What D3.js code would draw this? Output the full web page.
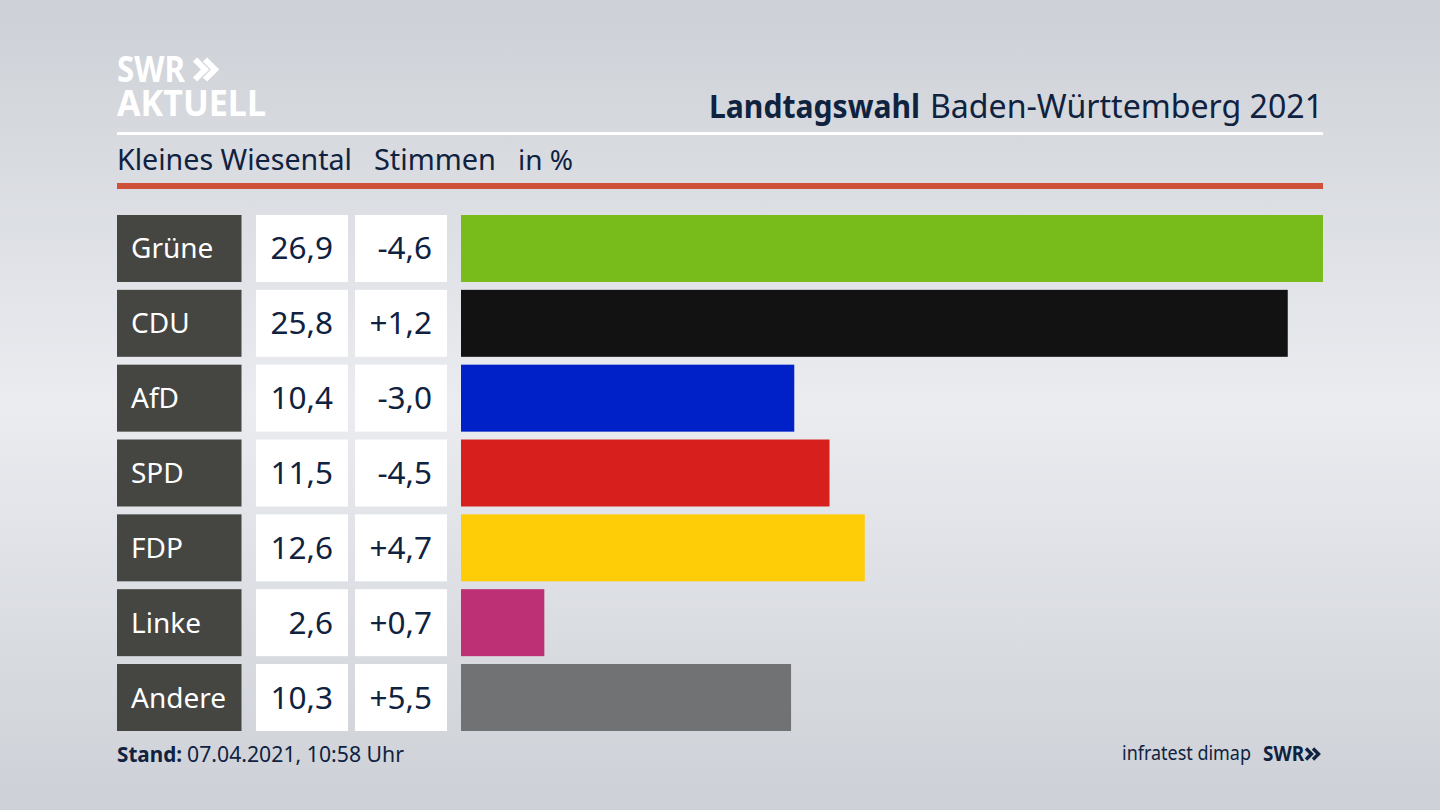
<!DOCTYPE html>
<html>
<head>
<meta charset="utf-8">
<script src="https://cdn.jsdelivr.net/npm/d3@7"></script>
<style>
  html, body { margin: 0; padding: 0; background: #d5d8de; }
  svg { display: block; }
  text { font-family: "Noto Sans", sans-serif; }
</style>
</head>
<body>
<svg id="chart"></svg>
<script>
// Chart data
const parties = ["Grüne", "CDU", "AfD", "SPD", "FDP", "Linke", "Andere"];
const shares = [26.9, 25.8, 10.4, 11.5, 12.6, 2.6, 10.3];
const changes = [-4.6, 1.2, -3.0, -4.5, 4.7, 0.7, 5.5];
const barColors = ["#78bc1b", "#121212", "#0021c8", "#d71f1d", "#ffcc08", "#bd3075", "#717274"];

const NAVY = "#0f2240";
const width = 1440;
const height = 810;

const svg = d3.select("#chart")
    .attr("width", width)
    .attr("height", height)
    .attr("viewBox", `0 0 ${width} ${height}`);

// Background: light band through the middle, darker top and bottom
const glow = svg.append("defs").append("linearGradient")
    .attr("id", "bg")
    .attr("x1", 0).attr("y1", 0).attr("x2", 0).attr("y2", 1);
glow.append("stop").attr("offset", "0%").attr("stop-color", "#cdd0d6");
glow.append("stop").attr("offset", "50%").attr("stop-color", "#eaecf0");
glow.append("stop").attr("offset", "100%").attr("stop-color", "#cdd0d6");

svg.append("rect").attr("width", width).attr("height", height).attr("fill", "url(#bg)");

// Scales
const y = d3.scaleBand().domain(parties).range([215, 731]).paddingInner(0.105);
const x = d3.scaleLinear().domain([0, d3.max(shares)]).range([461, 1323]);

const fmt = v => v.toFixed(1).replace(".", ",");
const fmtDiff = v => (v > 0 ? "+" : "-") + fmt(Math.abs(v));

// Header
function chevrons(x0, y0, h, dx, color, sw) {
    [0, dx].forEach(off => {
        svg.append("path")
            .attr("d", `M${x0 + off},${y0} l${h / 2},${h / 2} l${-h / 2},${h / 2}`)
            .attr("fill", "none")
            .attr("stroke", color)
            .attr("stroke-width", sw);
    });
}

// fixed-width text helper, the fonts here run wider than the original one
function fitText(tx, ty, size, weight, len, color, str) {
    return svg.append("text").attr("x", tx).attr("y", ty)
        .attr("font-size", size).attr("font-weight", weight).attr("fill", color)
        .attr("textLength", len).attr("lengthAdjust", "spacingAndGlyphs")
        .text(str);
}

// the logo lines sit tight on each other in the original too
fitText(117, 81.5, 36, 700, 68, "#fff", "SWR");
chevrons(195, 59.5, 20, 10, "#fff", 6);
fitText(117, 115.5, 36, 700, 149, "#fff", "AKTUELL");

fitText(709, 118, 32, 700, 211, NAVY, "Landtagswahl");
fitText(930, 118, 32, 400, 393, NAVY, "Baden-Württemberg 2021");

svg.append("rect").attr("x", 117).attr("y", 132).attr("width", 1206).attr("height", 3).attr("fill", "#fff");
svg.append("rect").attr("x", 117).attr("y", 183).attr("width", 1206).attr("height", 6).attr("fill", "#ce5138");

fitText(117, 170, 28.5, 400, 235, NAVY, "Kleines Wiesental");
fitText(374, 170, 28.5, 400, 122, NAVY, "Stimmen");
fitText(518, 170, 28, 400, 55, NAVY, "in %");

// Rows
const rows = svg.selectAll(".row").data(parties).enter().append("g").attr("class", "row");

rows.append("rect").attr("x", 117).attr("width", 124.5)
    .attr("y", d => y(d)).attr("height", y.bandwidth()).attr("fill", "#454542");
rows.append("text").attr("x", 131)
    .attr("y", d => y(d) + y.bandwidth() / 2 + 10)
    .attr("font-size", 28).attr("fill", "#fff").text(d => d);

rows.append("rect").attr("x", 256).attr("width", 92)
    .attr("y", d => y(d)).attr("height", y.bandwidth()).attr("fill", "#fff");
rows.append("text").attr("x", 333).attr("text-anchor", "end")
    .attr("y", d => y(d) + y.bandwidth() / 2 + 11)
    .attr("font-size", 31.5).attr("fill", NAVY).text((d, i) => fmt(shares[i]));

rows.append("rect").attr("x", 355).attr("width", 92)
    .attr("y", d => y(d)).attr("height", y.bandwidth()).attr("fill", "#fff");
rows.append("text").attr("x", 432).attr("text-anchor", "end")
    .attr("y", d => y(d) + y.bandwidth() / 2 + 11)
    .attr("font-size", 31.5).attr("fill", NAVY).text((d, i) => fmtDiff(changes[i]));

rows.append("rect").attr("x", x(0))
    .attr("y", d => y(d)).attr("height", y.bandwidth())
    .attr("width", (d, i) => x(shares[i]) - x(0))
    .attr("fill", (d, i) => barColors[i]);

// Footer
fitText(117, 762, 22, 700, 65, NAVY, "Stand:");
fitText(187, 762, 22, 400, 217, NAVY, "07.04.2021, 10:58 Uhr");

fitText(1122, 760, 20, 400, 129, NAVY, "infratest dimap");
fitText(1263, 761, 21, 700, 41, NAVY, "SWR");
chevrons(1306, 748.5, 11, 7, NAVY, 3.4);
</script>
</body>
</html>
